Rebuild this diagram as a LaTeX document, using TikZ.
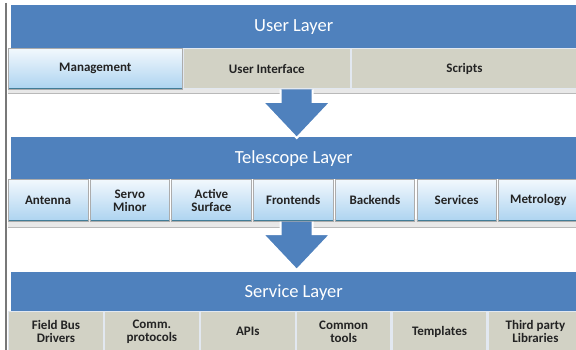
\documentclass[tikz,border=0pt]{standalone}
\usepackage{fontspec}
\setmainfont{Carlito}
\usepackage{tikz}
\usetikzlibrary{positioning, calc}
\definecolor{tbBlue}{RGB}{79, 129, 189}
\definecolor{tbBeige}{RGB}{210, 210, 197}
\definecolor{tbSep}{RGB}{226, 232, 240}
\definecolor{tbTop}{RGB}{242, 248, 253}
\definecolor{tbBottom}{RGB}{172, 211, 240}
\definecolor{tbEdge}{RGB}{66, 124, 150}
\definecolor{tbText}{RGB}{35, 35, 35}
\definecolor{tbGray}{RGB}{120, 120, 120}
\tikzset{
    base/.style={
        font=\bfseries\fontsize{13}{13}\selectfont,
        text=tbText,
        align=center,
        inner sep=0pt
    },
    layer/.style={
        rectangle,
        fill=tbBlue,
        text=white,
        font=\fontsize{18.5}{20}\selectfont,
        minimum width=565pt,
        inner sep=0pt,
        anchor=north west
    },
    flatbox/.style={
        base,
        rectangle,
        fill=tbBeige,
        draw=tbSep,
        line width=1.2pt,
        anchor=north west
    },
    raisedbox/.style={
        base,
        rectangle,
        top color=tbTop,
        bottom color=tbBottom,
        draw=gray!65,
        line width=0.7pt,
        anchor=north west,
        path picture={
            \draw[tbEdge, line width=3.5pt]
              (path picture bounding box.south west) --
              (path picture bounding box.south east);
        }
    },
    base strip/.style={
        fill=gray!18
    },
    strip line/.style={
        draw=gray!55,
        line width=0.8pt
    },
    arrowbody/.style={
        fill=tbBlue
    },
    arrowrim/.style={
        draw=white,
        line width=2pt,
        line join=miter
    }
}
% big block arrow from a shaft top to a tip
\newcommand{\layerarrow}[2]{%
  \fill[arrowbody] ($(#1)+(-16,0)$) -- ($(#2)+(-16,-36)$) -- ($(#2)+(-34,-36)$)
    -- (#2) -- ($(#2)+(34,-36)$) -- ($(#2)+(16,-36)$) -- ($(#1)+(16,0)$) -- cycle;
  \draw[arrowrim] ($(#1)+(-16,0)$) -- ($(#2)+(-16,-36)$) -- ($(#2)+(-34,-36)$)
    -- (#2) -- ($(#2)+(34,-36)$) -- ($(#2)+(16,-36)$) -- ($(#1)+(16,0)$);
}

\begin{document}
\begin{tikzpicture}[x=1pt, y=-1pt]
  \useasboundingbox[fill=white] (0,0) rectangle (576,350);

  % left border line
  \draw[tbGray, line width=1.2pt] (6,3) -- (6,350);

  % User layer
  \node[layer, minimum height=43pt] (user) at (11,5) {User Layer};
  \fill[base strip] (8,86) rectangle (576,93);
  \draw[strip line] (8,93) -- (576,93);
  \node[raisedbox, minimum width=174pt, minimum height=41pt] (mgmt) at (8,48) {Management};
  \node[flatbox, minimum width=167pt, minimum height=40pt, right=0pt of mgmt] (ui) {User Interface};
  \node[flatbox, minimum width=226pt, minimum height=40pt, right=0pt of ui] (scripts) {Scripts};

  % Telescope layer
  \node[layer, minimum height=42pt] (tel) at (11,137) {Telescope Layer};
  \fill[base strip] (8,219) rectangle (576,227);
  \draw[strip line] (8,227) -- (576,227);
  \node[raisedbox, minimum width=79.5pt, minimum height=42pt] (ant) at (8,179) {Antenna};
  \node[raisedbox, minimum width=79.5pt, minimum height=42pt, right=1.5pt of ant] (servo) {Servo\\Minor};
  \node[raisedbox, minimum width=79.5pt, minimum height=42pt, right=1.5pt of servo] (active) {Active\\Surface};
  \node[raisedbox, minimum width=79.5pt, minimum height=42pt, right=1.5pt of active] (front) {Frontends};
  \node[raisedbox, minimum width=79.5pt, minimum height=42pt, right=1.5pt of front] (back) {Backends};
  \node[raisedbox, minimum width=79.5pt, minimum height=42pt, right=1.5pt of back] (serv) {Services};
  \node[raisedbox, minimum width=79.5pt, minimum height=42pt, right=1.5pt of serv] (metro) {Metrology};

  % Service layer
  \node[layer, minimum height=40pt] (service) at (11,272) {Service Layer};
  \node[flatbox, minimum width=94.7pt, minimum height=40pt] (field) at (8,311) {Field Bus\\Drivers};
  \node[flatbox, minimum width=94.7pt, minimum height=40pt, right=0pt of field] (comm) {Comm.\\protocols};
  \node[flatbox, minimum width=94.7pt, minimum height=40pt, right=0pt of comm] (apis) {APIs};
  \node[flatbox, minimum width=94.7pt, minimum height=40pt, right=0pt of apis] (tools) {Common\\tools};
  \node[flatbox, minimum width=94.7pt, minimum height=40pt, right=0pt of tools] (templ) {Templates};
  \node[flatbox, minimum width=94.7pt, minimum height=40pt, right=0pt of templ] (third) {Third party\\Libraries};

  % arrows between the layers
  \coordinate (a1) at ($(ui.south -| user.south)+(3,0)$);
  \coordinate (t1) at ($(tel.north -| a1)+(0,1)$);
  \layerarrow{a1}{t1}
  \coordinate (a2) at ($(front.south -| tel.south)+(3,0)$);
  \coordinate (t2) at ($(service.north -| a2)+(0,-2)$);
  \layerarrow{a2}{t2}
\end{tikzpicture}
\end{document}
